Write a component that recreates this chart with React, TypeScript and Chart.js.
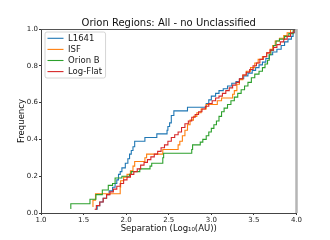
import React, { useEffect, useRef } from "react";
import { Chart, registerables } from "chart.js";

Chart.register(...registerables);

const TITLE = "Orion Regions: All - no Unclassified";
const X_TITLE = "Separation (Log₁₀(AU))";
const Y_TITLE = "Frequency";
const X_TICKS = [1.0, 1.5, 2.0, 2.5, 3.0, 3.5, 4.0];
const Y_TICKS = [0.0, 0.2, 0.4, 0.6, 0.8, 1.0];

const SERIES_LABELS = ["L1641", "ISF", "Orion B", "Log-Flat"];
const SERIES_COLORS = ["#1f77b4", "#ff7f0e", "#2ca02c", "#d62728"];

const L1641_X = [1.64, 1.66, 1.69, 1.73, 1.77, 1.8, 1.84, 1.87, 1.89, 1.91, 1.93, 1.95, 1.99, 2.02, 2.04, 2.06, 2.08, 2.1, 2.22, 2.36, 2.48, 2.49, 2.51, 2.53, 2.56, 2.72, 2.94, 2.97, 3.0, 3.05, 3.09, 3.14, 3.19, 3.24, 3.29, 3.33, 3.38, 3.43, 3.48, 3.52, 3.56, 3.6, 3.64, 3.68, 3.72, 3.77, 3.82, 3.86, 3.9, 3.94, 3.96, 3.98];
const L1641_Y = [0.02, 0.04, 0.06, 0.08, 0.1, 0.12, 0.14, 0.16, 0.18, 0.21, 0.225, 0.245, 0.27, 0.295, 0.32, 0.34, 0.36, 0.39, 0.41, 0.43, 0.45, 0.47, 0.49, 0.53, 0.555, 0.575, 0.595, 0.615, 0.635, 0.65, 0.665, 0.675, 0.69, 0.705, 0.715, 0.73, 0.745, 0.76, 0.775, 0.79, 0.805, 0.82, 0.84, 0.86, 0.875, 0.89, 0.91, 0.93, 0.945, 0.96, 0.98, 1.0];

const ISF_X = [1.605, 1.61, 1.64, 1.93, 1.935, 1.97, 2.01, 2.05, 2.08, 2.1, 2.22, 2.24, 2.43, 2.61, 2.63, 2.66, 2.69, 2.72, 2.75, 2.79, 2.83, 2.88, 2.94, 3.07, 3.12, 3.25, 3.27, 3.3, 3.33, 3.37, 3.41, 3.46, 3.51, 3.55, 3.6, 3.65, 3.69, 3.72, 3.75, 3.8, 3.85, 3.89, 3.93];
const ISF_Y = [0.035, 0.07, 0.105, 0.14, 0.175, 0.195, 0.21, 0.23, 0.255, 0.28, 0.3, 0.32, 0.345, 0.37, 0.39, 0.42, 0.45, 0.48, 0.505, 0.525, 0.545, 0.565, 0.59, 0.61, 0.625, 0.645, 0.665, 0.7, 0.725, 0.75, 0.77, 0.79, 0.815, 0.835, 0.85, 0.87, 0.89, 0.91, 0.935, 0.95, 0.965, 0.98, 1.0];

const ORIONB_X = [1.345, 1.35, 1.575, 1.645, 1.72, 1.79, 1.84, 1.87, 1.95, 2.04, 2.06, 2.16, 2.28, 2.3, 2.43, 2.44, 2.77, 2.78, 2.87, 2.9, 2.94, 2.97, 3.0, 3.03, 3.06, 3.09, 3.12, 3.15, 3.19, 3.23, 3.27, 3.31, 3.35, 3.39, 3.43, 3.47, 3.51, 3.56, 3.6, 3.63, 3.66, 3.68, 3.7, 3.73, 3.76, 3.8, 3.86, 3.91, 3.96, 3.97];
const ORIONB_Y = [0.025, 0.05, 0.075, 0.1, 0.125, 0.15, 0.16, 0.19, 0.2, 0.21, 0.225, 0.24, 0.255, 0.27, 0.3, 0.325, 0.345, 0.37, 0.385, 0.4, 0.42, 0.44, 0.46, 0.48, 0.5, 0.525, 0.55, 0.57, 0.59, 0.61, 0.63, 0.65, 0.67, 0.69, 0.71, 0.735, 0.755, 0.77, 0.79, 0.81, 0.83, 0.86, 0.885, 0.91, 0.935, 0.945, 0.96, 0.975, 0.99, 1.0];

const LOGFLAT_X = [1.63, 1.65, 1.69, 1.73, 1.77, 1.81, 1.85, 1.89, 1.93, 1.97, 2.01, 2.05, 2.09, 2.13, 2.17, 2.21, 2.25, 2.29, 2.33, 2.37, 2.41, 2.45, 2.49, 2.53, 2.57, 2.61, 2.65, 2.69, 2.73, 2.77, 2.81, 2.85, 2.89, 2.93, 2.97, 3.01, 3.05, 3.09, 3.13, 3.17, 3.21, 3.25, 3.29, 3.33, 3.37, 3.41, 3.45, 3.49, 3.53, 3.57, 3.61, 3.65, 3.69, 3.73, 3.77, 3.81, 3.85, 3.89, 3.93, 3.97];
const LOGFLAT_Y = [0.02, 0.04, 0.06, 0.08, 0.1, 0.115, 0.13, 0.145, 0.16, 0.18, 0.195, 0.21, 0.225, 0.24, 0.26, 0.275, 0.29, 0.305, 0.32, 0.335, 0.355, 0.37, 0.39, 0.41, 0.425, 0.44, 0.465, 0.485, 0.5, 0.52, 0.535, 0.55, 0.565, 0.58, 0.595, 0.61, 0.625, 0.635, 0.65, 0.665, 0.68, 0.695, 0.71, 0.73, 0.75, 0.765, 0.78, 0.8, 0.815, 0.835, 0.85, 0.87, 0.885, 0.9, 0.915, 0.93, 0.945, 0.96, 0.98, 1.0];

const SERIES_X = [L1641_X, ISF_X, ORIONB_X, LOGFLAT_X];
const SERIES_Y = [L1641_Y, ISF_Y, ORIONB_Y, LOGFLAT_Y];

const FONT = "'DejaVu Sans', sans-serif";

const framePlugin = {
  id: "frameAndLegend",
  afterDatasetsDraw(chart: any) {
    const { ctx, chartArea } = chart;
    const { left, right, top, bottom } = chartArea;
    ctx.save();
    ctx.strokeStyle = "#555";
    ctx.lineWidth = 1;
    ctx.beginPath();
    ctx.moveTo(left, top + 0.5);
    ctx.lineTo(right, top + 0.5);
    ctx.stroke();
    ctx.strokeStyle = "#b5b5b5";
    ctx.lineWidth = 2.5;
    ctx.beginPath();
    ctx.moveTo(right, top);
    ctx.lineTo(right, bottom);
    ctx.stroke();

    const fontSize = 8.5;
    ctx.font = `${fontSize}px ${FONT}`;
    const labels = chart.data.datasets.map((d: any) => d.label);
    const colors = chart.data.datasets.map((d: any) => d.borderColor);
    let maxW = 0;
    labels.forEach((l: string) => {
      maxW = Math.max(maxW, ctx.measureText(l).width);
    });
    const fx = left + 4;
    const fy = top + 3;
    const pitch = 11.1;
    const fw = 23 + maxW + 3.5;
    const fh = 46;
    ctx.fillStyle = "rgba(255,255,255,0.8)";
    ctx.strokeStyle = "#cccccc";
    ctx.lineWidth = 0.8;
    ctx.beginPath();
    const r = 2;
    ctx.moveTo(fx + r, fy);
    ctx.lineTo(fx + fw - r, fy);
    ctx.arcTo(fx + fw, fy, fx + fw, fy + r, r);
    ctx.lineTo(fx + fw, fy + fh - r);
    ctx.arcTo(fx + fw, fy + fh, fx + fw - r, fy + fh, r);
    ctx.lineTo(fx + r, fy + fh);
    ctx.arcTo(fx, fy + fh, fx, fy + fh - r, r);
    ctx.lineTo(fx, fy + r);
    ctx.arcTo(fx, fy, fx + r, fy, r);
    ctx.closePath();
    ctx.fill();
    ctx.stroke();

    ctx.textBaseline = "middle";
    ctx.textAlign = "left";
    labels.forEach((l: string, i: number) => {
      const cy = fy + 6.3 + i * pitch;
      ctx.strokeStyle = colors[i];
      ctx.lineWidth = 1.1;
      ctx.beginPath();
      ctx.moveTo(fx + 2.5, cy);
      ctx.lineTo(fx + 18.5, cy);
      ctx.stroke();
      ctx.fillStyle = "#1a1a1a";
      ctx.fillText(l, fx + 23, cy + 0.5);
    });
    ctx.restore();
  },
};

export default function App() {
  const canvasRef = useRef<HTMLCanvasElement | null>(null);

  useEffect(() => {
    if (!canvasRef.current) return;
    const datasets = SERIES_LABELS.map((label, i) => ({
      label,
      data: SERIES_X[i].map((x, j) => ({ x, y: SERIES_Y[i][j] })),
      borderColor: SERIES_COLORS[i],
      backgroundColor: SERIES_COLORS[i],
      borderWidth: 1.1,
      pointRadius: 0,
      stepped: "before" as const,
      fill: false,
      order: SERIES_LABELS.length - i,
    }));

    const chart = new Chart(canvasRef.current, {
      type: "line",
      data: { datasets },
      options: {
        animation: false,
        responsive: false,
        maintainAspectRatio: false,
        layout: { padding: { left: 0, right: 33.5, top: 0, bottom: 0 } },
        plugins: {
          legend: { display: false },
          tooltip: { enabled: false },
          title: {
            display: true,
            text: TITLE,
            fullSize: false,
            color: "#111",
            font: { family: FONT, size: 10, weight: "normal", lineHeight: 1.2 },
            padding: { top: 17, bottom: 0 },
          },
        },
        scales: {
          x: {
            type: "linear",
            min: 1,
            max: 4,
            afterFit: (s: any) => {
              s.height = 27;
            },
            afterBuildTicks: (s: any) => {
              s.ticks = X_TICKS.map((v) => ({ value: v }));
            },
            ticks: {
              autoSkip: false,
              maxRotation: 0,
              padding: 1,
              color: "#222",
              font: { family: FONT, size: 7 },
              callback: (v: any) => Number(v).toFixed(1),
            },
            grid: {
              display: true,
              drawOnChartArea: false,
              drawTicks: true,
              tickLength: 2,
              color: "#333",
            },
            border: { display: true, color: "#444", width: 1 },
            title: {
              display: true,
              text: X_TITLE,
              color: "#111",
              font: { family: FONT, size: 8.5, lineHeight: 1.2 },
              padding: { top: 0, bottom: 6.5 },
            },
          },
          y: {
            type: "linear",
            min: 0,
            max: 1,
            afterFit: (s: any) => {
              s.width = 41;
            },
            afterBuildTicks: (s: any) => {
              s.ticks = Y_TICKS.map((v) => ({ value: v }));
            },
            ticks: {
              autoSkip: false,
              padding: 1,
              color: "#222",
              font: { family: FONT, size: 7 },
              callback: (v: any) => Number(v).toFixed(1),
            },
            grid: {
              display: true,
              drawOnChartArea: false,
              drawTicks: true,
              tickLength: 2,
              color: "#333",
            },
            border: { display: true, color: "#444", width: 1 },
            title: {
              display: true,
              text: Y_TITLE,
              color: "#111",
              font: { family: FONT, size: 8.5, lineHeight: 1.2 },
              padding: { top: 16.5, bottom: 0 },
            },
          },
        },
      },
      plugins: [framePlugin],
    });
    return () => chart.destroy();
  }, []);

  return (
    <div style={{ position: "absolute", left: 0, top: 0, width: 330, height: 240, background: "#fff" }}>
      <canvas ref={canvasRef} width={330} height={240} style={{ display: "block" }} />
    </div>
  );
}
